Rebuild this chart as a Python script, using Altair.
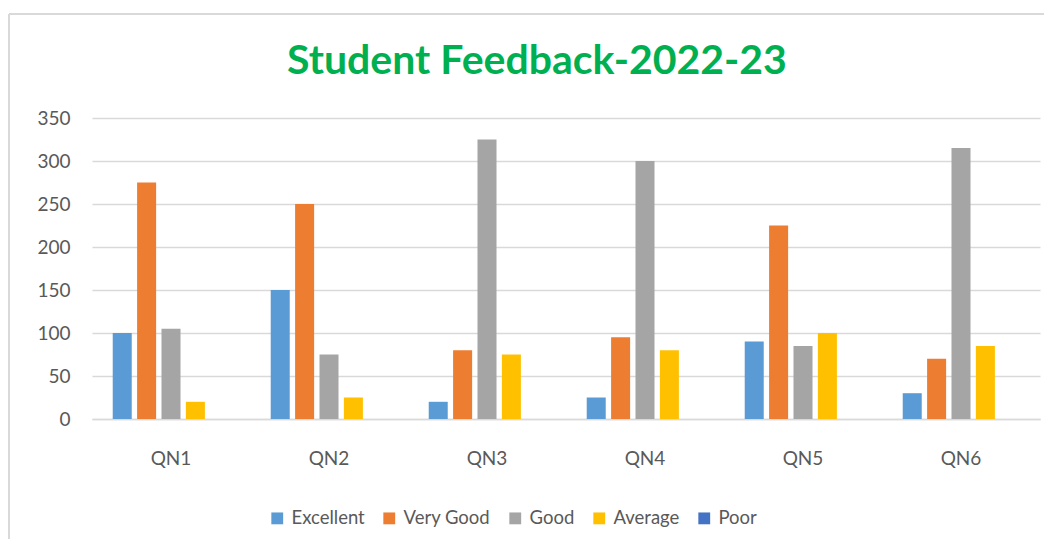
import altair as alt
import pandas as pd

questions = ["QN1", "QN2", "QN3", "QN4", "QN5", "QN6"]
series = ["Excellent", "Very Good", "Good", "Average", "Poor"]
excellent = [100, 150, 20, 25, 90, 30]
very_good = [275, 250, 80, 95, 225, 70]
good = [105, 75, 325, 300, 85, 315]
average = [20, 25, 75, 80, 100, 85]
poor = [0, 0, 0, 0, 0, 0]
colors = ["#5B9BD5", "#ED7D31", "#A5A5A5", "#FFC000", "#4472C4"]
y_ticks = [0, 50, 100, 150, 200, 250, 300, 350]

rows = []
for name, vals in zip(series, [excellent, very_good, good, average, poor]):
    for q, v in zip(questions, vals):
        rows.append({"Question": q, "Rating": name, "Count": v})
df = pd.DataFrame(rows)

FONT = "Lato"

bars = alt.Chart(df).mark_bar().encode(
    x=alt.X("Question:N", sort=questions,
            scale=alt.Scale(paddingInner=0, paddingOuter=0),
            axis=alt.Axis(title=None, labelAngle=0, ticks=False, domainColor="#D9D9D9",
                          domainWidth=1.5, labelFont=FONT, labelFontSize=19,
                          labelColor="#595959", labelPadding=30, grid=False)),
    xOffset=alt.XOffset("Rating:N", sort=series,
                        scale=alt.Scale(paddingInner=0.22, paddingOuter=0.85)),
    y=alt.Y("Count:Q", scale=alt.Scale(domain=[0, 350]),
            axis=alt.Axis(title=None, values=y_ticks, ticks=False, domain=False,
                          gridColor="#D9D9D9", gridWidth=1.5, labelFont=FONT,
                          labelFontSize=19, labelColor="#595959", labelPadding=22)),
    color=alt.Color("Rating:N", sort=series,
                    scale=alt.Scale(domain=series, range=colors),
                    legend=alt.Legend(title=None, orient="none", direction="horizontal",
                                      legendX=176, legendY=391, symbolType="square",
                                      symbolSize=140, symbolStrokeWidth=0,
                                      labelFont=FONT, labelFontSize=18.5,
                                      labelColor="#595959", columnPadding=15,
                                      labelOffset=5)),
)

border_left = alt.Chart(df).mark_rule(color="#D9D9D9", strokeWidth=2, clip=False).encode(
    x=alt.value(-83), y=alt.value(-104), y2=alt.value(520))
border_top = alt.Chart(df).mark_rule(color="#D9D9D9", strokeWidth=2, clip=False).encode(
    x=alt.value(-83), x2=alt.value(1000), y=alt.value(-104))

chart = alt.layer(border_left, border_top, bars).properties(
    width=948, height=301,
    autosize=alt.AutoSizeParams(type="none"),
    padding={"left": 84, "top": 110, "right": 4, "bottom": 120},
    title=alt.TitleParams("Student Feedback-2022-23", font=FONT, fontSize=41,
                          fontWeight="bold", color="#00B050", anchor="middle",
                          dx=-29, dy=104, offset=34),
).configure_view(stroke=None)

chart.save("out.html", embed_options={"renderer": "svg", "actions": False})
